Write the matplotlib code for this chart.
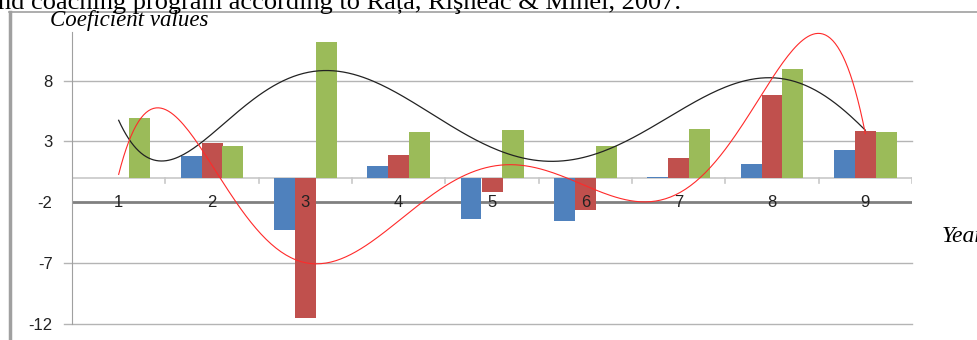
import numpy as np
import matplotlib.pyplot as plt
from matplotlib.lines import Line2D

# data
years = [1, 2, 3, 4, 5, 6, 7, 8, 9]
blue_vals = [0.0, 1.83, -4.24, 0.95, -3.34, -3.5, 0.08, 1.17, 2.32]
red_vals = [0.0, 2.87, -11.5, 1.85, -1.15, -2.65, 1.6, 6.83, 3.88]
green_vals = [4.9, 2.6, 11.2, 3.77, 3.9, 2.6, 4.04, 8.93, 3.8]
y_ticks = [-12, -7, -2, 3, 8]

caption = "nd coaching program according to Rața, Rişneac & Mihel, 2007."

BLUE, RED, GREEN = '#4F81BD', '#C0504D', '#9BBB59'
plt.rcParams['axes.unicode_minus'] = False

fig = plt.figure(figsize=(9.78, 3.4), dpi=100)
ax = fig.add_axes([72/978, 1-324/340, 840/978, (324-31.9)/340])

x = np.array(years, dtype=float)
w = 0.225
ax.bar(x - w, blue_vals, w, color=BLUE, zorder=3)
ax.bar(x, red_vals, w, color=RED, zorder=3)
ax.bar(x + w, green_vals, w, color=GREEN, zorder=3)

# polynomial trendlines (order 6), like the spreadsheet did
xs = np.linspace(1, 9, 300)
ax.plot(xs, np.polyval(np.polyfit(x, green_vals, 6), xs), color='#222222', lw=0.9, zorder=4)
ax.plot(xs, np.polyval(np.polyfit(x, red_vals, 6), xs), color='#FF2A2A', lw=0.8, zorder=4)

ax.set_xlim(0.5, 9.5)
ax.set_ylim(-12, 12)
ax.set_yticks(y_ticks)
ax.set_xticks([])
for v in y_ticks:
    if v == -2:
        ax.axhline(v, color='#808080', lw=2, zorder=2)
    else:
        ax.axhline(v, xmin=-8/840, color='#b4b4b4', lw=1, zorder=1, clip_on=False)
ax.tick_params(axis='y', length=0, pad=14, labelsize=12, colors='#000000')
for lab in ax.get_yticklabels():
    lab.set_color('#222222')
    lab.set_family('Liberation Sans')

# category axis at zero with tick marks between groups
ax.axhline(0, color='#c8c8c8', lw=1.2, zorder=2)
for b in np.arange(1.5, 10, 1.0):
    ax.plot([b, b], [0, -0.45], color='#c8c8c8', lw=1.2, zorder=2)
for yr in years:
    ax.text(yr, -2, str(yr), ha='center', va='center', fontsize=12, family='Liberation Sans',
            color='#222222', zorder=3)

for side in ['top', 'right', 'bottom']:
    ax.spines[side].set_visible(False)
ax.spines['left'].set_color('#a0a0a0')
ax.spines['left'].set_bounds(-12, 12)

# titles in serif italic
fig.text(50/978, 1-26/340, 'Coeficient values', family='Liberation Serif', style='italic',
         fontsize=16.5, va='baseline')
fig.text(942/978, 1-242/340, 'Year', family='Liberation Serif', style='italic',
         fontsize=17, va='baseline')
fig.text(-2/978, 1-9/340, caption, family='Liberation Serif', fontsize=19, va='baseline')

# outer frame of the chart
fig.add_artist(Line2D([9/978, 1], [1-12/340, 1-12/340], color='#a0a0a0', lw=1.2))
fig.add_artist(Line2D([10/978, 10/978], [0, 1-12/340], color='#a0a0a0', lw=2.5))

fig.savefig('out.png', dpi=100)
